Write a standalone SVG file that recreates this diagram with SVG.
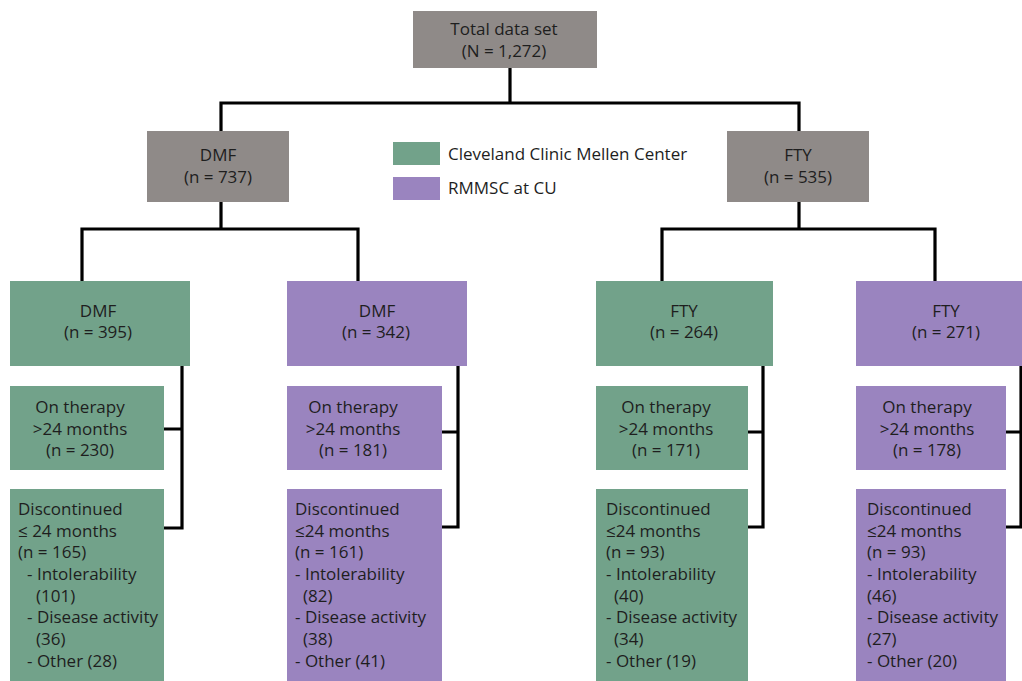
<svg xmlns="http://www.w3.org/2000/svg" width="1022" height="681" viewBox="0 0 1022 681">
<style>
.grey{fill:#8f8a88}
.green{fill:#72a28a}
.purple{fill:#9a84bf}
text{font-family:"Open Sans","Liberation Sans",sans-serif;font-size:17px;fill:#1e1e1e}
.c{text-anchor:middle}
.conn{fill:none;stroke:#000;stroke-width:3.2;stroke-linejoin:miter;stroke-linecap:square}
</style>
<rect width="1022" height="681" fill="#fff"/>
<g id="connectors">
<path class="conn" d="M510 68V103M221 103H799M221 103V131M799 103V131"/>
<path class="conn" d="M221 202V229M82 229H358M82 229V281M358 229V281"/>
<path class="conn" d="M799 202V229M662 229H935M662 229V281M935 229V281"/>
<path class="conn" d="M164 429H182M182 366V528M164 528H182"/>
<path class="conn" d="M442 432H458M458 366V527M442 527H458"/>
<path class="conn" d="M748 432H763M763 366V527M748 527H763"/>
<path class="conn" d="M1006 432H1021M1021 366V527M1006 527H1021"/>
</g>
<g id="total">
<rect class="grey" x="413" y="11" width="184" height="57"/>
<text class="c" x="504" y="35">Total data set</text>
<text class="c" x="504" y="57">(N = 1,272)</text>
</g>
<g id="dmf">
<rect class="grey" x="147" y="131" width="142" height="71"/>
<text class="c" x="218" y="161">DMF</text>
<text class="c" x="218" y="183">(n = 737)</text>
</g>
<g id="fty">
<rect class="grey" x="727" y="131" width="142" height="71"/>
<text class="c" x="798" y="161">FTY</text>
<text class="c" x="798" y="183">(n = 535)</text>
</g>
<g id="legend">
<rect class="green" x="393" y="142" width="47" height="23"/>
<text x="448" y="160">Cleveland Clinic Mellen Center</text>
<rect class="purple" x="393" y="177" width="47" height="23"/>
<text x="448" y="194">RMMSC at CU</text>
</g>
<g id="dmf-cc">
<rect class="green" x="10" y="281" width="180" height="85"/>
<text class="c" x="98" y="317">DMF</text>
<text class="c" x="98" y="338">(n = 395)</text>
</g>
<g id="dmf-cc-on">
<rect class="green" x="10" y="386" width="154" height="84"/>
<text class="c" x="80" y="413">On therapy</text>
<text class="c" x="80" y="435">&gt;24 months</text>
<text class="c" x="80" y="456">(n = 230)</text>
</g>
<g id="dmf-cc-disc">
<rect class="green" x="10" y="489" width="154" height="192"/>
<text x="18" y="515">Discontinued</text>
<text x="18" y="537">≤ 24 months</text>
<text x="18" y="558">(n = 165)</text>
<text x="27" y="580">- Intolerability</text>
<text x="36" y="602">(101)</text>
<text x="27" y="623">- Disease activity</text>
<text x="36" y="645">(36)</text>
<text x="27" y="667">- Other (28)</text>
</g>
<g id="dmf-cu">
<rect class="purple" x="287" y="281" width="180" height="85"/>
<text class="c" x="377" y="317">DMF</text>
<text class="c" x="376" y="338">(n = 342)</text>
</g>
<g id="dmf-cu-on">
<rect class="purple" x="287" y="386" width="155" height="84"/>
<text class="c" x="353" y="413">On therapy</text>
<text class="c" x="353" y="435">&gt;24 months</text>
<text class="c" x="353" y="456">(n = 181)</text>
</g>
<g id="dmf-cu-disc">
<rect class="purple" x="287" y="489" width="155" height="192"/>
<text x="295" y="515">Discontinued</text>
<text x="295" y="537">≤24 months</text>
<text x="295" y="558">(n = 161)</text>
<text x="295" y="580">- Intolerability</text>
<text x="303" y="602">(82)</text>
<text x="295" y="623">- Disease activity</text>
<text x="303" y="645">(38)</text>
<text x="295" y="667">- Other (41)</text>
</g>
<g id="fty-cc">
<rect class="green" x="596" y="281" width="177" height="85"/>
<text class="c" x="684" y="317">FTY</text>
<text class="c" x="684" y="338">(n = 264)</text>
</g>
<g id="fty-cc-on">
<rect class="green" x="596" y="386" width="152" height="84"/>
<text class="c" x="666" y="413">On therapy</text>
<text class="c" x="666" y="435">&gt;24 months</text>
<text class="c" x="666" y="456">(n = 171)</text>
</g>
<g id="fty-cc-disc">
<rect class="green" x="596" y="489" width="152" height="192"/>
<text x="606" y="515">Discontinued</text>
<text x="606" y="537">≤24 months</text>
<text x="606" y="558">(n = 93)</text>
<text x="606" y="580">- Intolerability</text>
<text x="614" y="602">(40)</text>
<text x="606" y="623">- Disease activity</text>
<text x="614" y="645">(34)</text>
<text x="606" y="667">- Other (19)</text>
</g>
<g id="fty-cu">
<rect class="purple" x="856" y="281" width="166" height="85"/>
<text class="c" x="946" y="317">FTY</text>
<text class="c" x="946" y="338">(n = 271)</text>
</g>
<g id="fty-cu-on">
<rect class="purple" x="856" y="386" width="150" height="84"/>
<text class="c" x="927" y="413">On therapy</text>
<text class="c" x="927" y="435">&gt;24 months</text>
<text class="c" x="927" y="456">(n = 178)</text>
</g>
<g id="fty-cu-disc">
<rect class="purple" x="856" y="489" width="150" height="192"/>
<text x="867" y="515">Discontinued</text>
<text x="867" y="537">≤24 months</text>
<text x="867" y="558">(n = 93)</text>
<text x="867" y="580">- Intolerability</text>
<text x="867" y="602">(46)</text>
<text x="867" y="623">- Disease activity</text>
<text x="867" y="645">(27)</text>
<text x="867" y="667">- Other (20)</text>
</g>
</svg>
